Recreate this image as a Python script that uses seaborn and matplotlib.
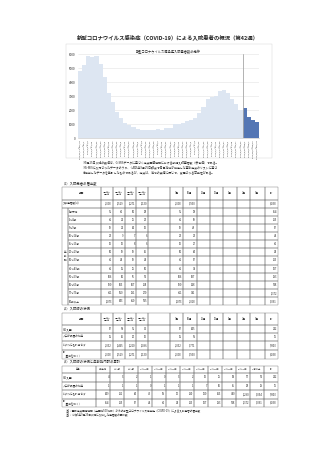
import numpy as np
import matplotlib
matplotlib.use("Agg")
import matplotlib.pyplot as plt
from matplotlib.patches import Rectangle
import seaborn as sns

# weekly new inpatients (light = G-MIS, dark = sentinel reports)
week_labels = [
    "2022/12/19～12/25", "2022/12/26～1/1",
    "2023/1/2～1/8", "2023/1/9～1/15", "2023/1/16～1/22", "2023/1/23～1/29",
    "2023/1/30～2/5", "2023/2/6～2/12", "2023/2/13～2/19", "2023/2/20～2/26",
    "2023/2/27～3/5", "2023/3/6～3/12", "2023/3/13～3/19", "2023/3/20～3/26",
    "2023/3/27～4/2", "2023/4/3～4/9", "2023/4/10～4/16", "2023/4/17～4/23",
    "2023/4/24～4/30", "2023/5/1～5/7", "2023/5/8～5/14", "2023/5/15～5/21",
    "2023/5/22～5/28", "2023/5/29～6/4", "2023/6/5～6/11", "2023/6/12～6/18",
    "2023/6/19～6/25", "2023/6/26～7/2", "2023/7/3～7/9", "2023/7/10～7/16",
    "2023/7/17～7/23", "2023/7/24～7/30", "2023/7/31～8/6", "2023/8/7～8/13",
    "2023/8/14～8/20", "2023/8/21～8/27", "2023/8/28～9/3", "2023/9/4～9/10",
    "2023/9/11～9/17", "2023/9/18～9/24",
    "2023/9/25～10/1", "2023/10/2～10/8", "2023/10/9～10/15", "2023/10/16～10/22",
]
gmis_counts = [4800, 5230, 5830, 5780, 5880, 5300, 4340, 3240, 2540, 1870,
               1460, 1100, 910, 790, 620, 550, 560, 580, 600, 620,
               600, 740, 750, 980, 1030, 1050, 1220, 1270, 1460, 1800,
               2230, 2800, 2950, 3000, 3380, 3430, 3240, 2800, 2400, 2000]
sentinel_counts = [2108, 1529, 1271, 1130]

week_headers = ["9月25日～\n10月1日", "10月2日～\n10月8日",
                "10月9日～\n10月15日", "10月16日～\n10月22日"]
month_headers = ["9月", "10月", "11月", "12月", "1月", "2月", "3月"]
age_groups = ["1歳未満", "1～4歳", "5～9歳", "10～14歳", "15～19歳", "20～29歳",
              "30～39歳", "40～49歳", "50～59歳", "60～69歳", "70～79歳", "80歳以上"]
age_week1 = [56, 46, 19, 22, 13, 30, 46, 46, 106, 190, 461, 1073]
age_week2 = [40, 21, 21, 9, 13, 19, 24, 36, 60, 103, 350, 833]
age_week3 = [30, 25, 14, 7, 8, 19, 19, 25, 76, 107, 291, 650]
age_week4 = [28, 23, 13, 6, 6, 26, 24, 30, 51, 118, 270, 535]

status_labels = ["ICU入室", "人工呼吸器の利用", "いずれにも該当せず", "計\n（重複を除く）"]
icu_week = [67, 58, 56, 31]
vent_week = [36, 26, 20, 13]
neither_week = [2032, 1465, 1210, 1096]

icu_age = [4, 3, 2, 1, 0, 3, 2, 13, 25, 38, 70, 51]
vent_age = [1, 1, 1, 0, 1, 1, 1, 7, 10, 15, 28, 29]
neither_age = [149, 111, 64, 43, 39, 90, 110, 120, 263, 470, 1290, 3054]

LIGHT = "#dae6f5"
DARK = "#4472c4"

sns.set_style("white")
plt.rcParams['font.family'] = ['Noto Sans CJK JP', 'DejaVu Sans']

W, H = 320, 453
fig = plt.figure(figsize=(3.2, 4.53), dpi=100)
page = fig.add_axes([0, 0, 1, 1])
page.set_xlim(0, W)
page.set_ylim(H, 0)
page.axis("off")


def cell(x0, x1, y0, y1, text="", ha="center", fs=1.9, bold=False):
    page.add_patch(Rectangle((x0, y0), x1 - x0, y1 - y0, fill=False,
                             edgecolor="#555555", linewidth=0.25))
    if text != "":
        if ha == "center":
            tx = (x0 + x1) / 2
        elif ha == "right":
            tx = x1 - 1
        else:
            tx = x0 + 1
        page.text(tx, (y0 + y1) / 2, text, ha=ha, va="center", fontsize=fs,
                  fontweight="bold" if bold else "normal", linespacing=1.0)


def fmt(v):
    return f"{v:,}"


# title
page.text(168, 37, "新型コロナウイルス感染症（COVID-19）による入院患者の概況（第42週）",
          ha="center", va="center", fontsize=3.9, fontweight="bold")

# chart frame
page.add_patch(Rectangle((66, 44), 206, 114, fill=False, edgecolor="#d0d0d0", linewidth=0.3))
page.text(168, 52, "新型コロナウイルス感染症入院患者数の推移", ha="center", va="center", fontsize=2.3)

# bar chart
ax = fig.add_axes([78 / W, 1 - 138 / H, 181 / W, 84 / H])
counts = gmis_counts + sentinel_counts
source = ["G-MIS"] * len(gmis_counts) + ["定点"] * len(sentinel_counts)
sns.barplot(x=week_labels, y=counts, hue=source, palette=[LIGHT, DARK],
            width=1.0, dodge=False, legend=False, linewidth=0, ax=ax)
ax.axvline(len(gmis_counts) - 0.5, color="#a6a6a6", linewidth=0.6)
ax.set_ylim(0, 6000)
ax.set_yticks(range(0, 6001, 1000))
ax.yaxis.grid(True, color="#e3e3e3", linewidth=0.4)
ax.set_axisbelow(True)
ax.tick_params(axis="y", labelsize=2.2, length=0, pad=2)
ax.tick_params(axis="x", labelsize=1.6, length=0, pad=1, rotation=90)
for s in ["top", "right", "left"]:
    ax.spines[s].set_visible(False)
ax.spines["bottom"].set_color("#bfbfbf")
ax.spines["bottom"].set_linewidth(0.4)
ax.set_xlim(-0.5, len(counts) - 0.5)

# notes below chart
notes = [
    "※9月25日以降の数値は、G-MISデータに基づく定点医療機関における新規入院患者数（参考値）である。",
    "※G-MISに入力されたデータのうち、令和5年9月25日時点で各自治体が指定した基幹定点のリストに基づ",
    "き抽出したデータを集計したものであるが、定点は、地域の実情に応じて、変更される可能性がある。",
]
for i, t in enumerate(notes):
    page.text(83, 163 + i * 4.8, t, ha="left", va="center", fontsize=2.1)

# (1) table
week_age = np.array([age_week1, age_week2, age_week3, age_week4])
week_tot = week_age.sum(axis=1)
month_tot = [week_tot[0], week_tot[1:].sum()]
page.text(62, 183, "（1）入院患者の届出数", ha="left", va="center", fontsize=2.4)

wx = [101, 113, 124.5, 136, 148]
mx = [170, 183, 196.5, 210, 223, 237, 250, 265, 278]


def header_row(y0, y1):
    cell(62, 101, y0, y1, "期間")
    for i in range(4):
        cell(wx[i], wx[i + 1], y0, y1, week_headers[i], fs=1.2)
    cell(148, 170, y0, y1)
    for i in range(7):
        cell(mx[i], mx[i + 1], y0, y1, month_headers[i])
    cell(mx[7], mx[8], y0, y1, "計")


def data_row(y0, y1, label, wvals, mvals, total, lx0=62):
    cell(lx0, 101, y0, y1, label, ha="left")
    for i in range(4):
        cell(wx[i], wx[i + 1], y0, y1, fmt(wvals[i]), ha="right")
    cell(148, 170, y0, y1)
    for i in range(7):
        cell(mx[i], mx[i + 1], y0, y1, fmt(mvals[i]) if i < len(mvals) else "", ha="right")
    cell(mx[7], mx[8], y0, y1, fmt(total), ha="right")


header_row(187, 199.5)
data_row(199.5, 207.5, "入院患者数(a)", week_tot, month_tot, week_tot.sum())
rh = 8.15
for k, ag in enumerate(age_groups):
    y0 = 207.5 + k * rh
    vals = week_age[:, k]
    data_row(y0, y0 + rh, ag, vals, [vals[0], vals[1:].sum()], vals.sum(), lx0=68)
t1_bottom = 207.5 + 12 * rh
cell(62, 68, 207.5, t1_bottom)
page.text(65, (207.5 + t1_bottom) / 2, "年\n齢\n別", ha="center", va="center",
          fontsize=1.9, linespacing=1.0)

# (2) table
page.text(62, 309, "（2）入院時の状況", ha="left", va="center", fontsize=2.4)
header_row(313, 325)
status_week = [icu_week, vent_week, neither_week, list(week_tot)]
ry = [325, 332.5, 341, 349.5, 359]
for k, lab in enumerate(status_labels):
    vals = np.array(status_week[k])
    data_row(ry[k], ry[k + 1], lab, vals, [vals[0], vals[1:].sum()], vals.sum())

# (3) table
page.text(62, 362, "（3）入院時の状況と年齢別内訳の累計", ha="left", va="center", fontsize=2.4)
lx0, lx1 = 62, 96
cw = (278 - lx1) / 13
cols = [lx1 + i * cw for i in range(14)]
cell(lx0, lx1, 365.5, 373, "年齢")
for i, ag in enumerate(age_groups + ["計"]):
    cell(cols[i], cols[i + 1], 365.5, 373, ag, fs=1.6)
age_rows = [icu_age, vent_age, neither_age, list(week_age.sum(axis=0))]
ry3 = [373, 382, 390, 398.5, 407]
for k, lab in enumerate(status_labels):
    vals = list(age_rows[k])
    cell(lx0, lx1, ry3[k], ry3[k + 1], lab, ha="left")
    for i, v in enumerate(vals + [sum(vals)]):
        cell(cols[i], cols[i + 1], ry3[k], ry3[k + 1], fmt(v), ha="right")

page.text(66, 410, "注1：基幹定点医療機関（全国約500カ所）からの新型コロナウイルス感染症（COVID-19）による入院患者の届出数",
          ha="left", va="center", fontsize=1.9)
page.text(66, 414.5, "注2：令和5年9月25日以降に入院した患者数の累計数",
          ha="left", va="center", fontsize=1.9)

fig.savefig("out.png", dpi=100, facecolor="white")
